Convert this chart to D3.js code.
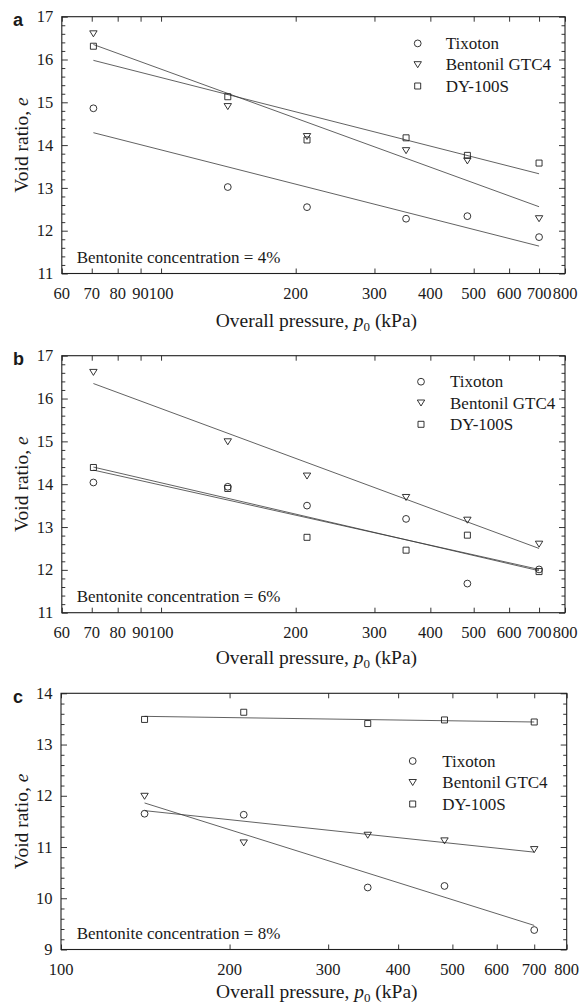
<!DOCTYPE html>
<html><head><meta charset="utf-8">
<script src="https://cdn.jsdelivr.net/npm/d3@7"></script>
<style>
body{margin:0;background:#fff;}
svg{display:block;}
text{font-family:"Liberation Serif","Times New Roman",serif;fill:#1a1a1a;}
text.plabel{font-family:"Liberation Sans",Arial,sans-serif;font-weight:bold;}
</style></head><body>
<svg id="chart" width="583" height="1004"></svg>
<script>
// ---------- data ----------
const seriesNames = ["Tixoton", "Bentonil GTC4", "DY-100S"];
const pressuresAB = [70.6, 141, 212, 353, 484, 700];
const pressuresC  = [141, 212, 353, 484, 700];
const xTicksAB = [60, 70, 80, 90, 100, 200, 300, 400, 500, 600, 700, 800];
const xTicksC  = [100, 200, 300, 400, 500, 600, 700, 800];
const yTicksAB = [11, 12, 13, 14, 15, 16, 17];
const yTicksC  = [9, 10, 11, 12, 13, 14];

// panel a (4%)
const tixotonA  = [14.86, 13.02, 12.55, 12.28, 12.34, 11.85];
const bentonilA = [16.60, 14.90, 14.20, 13.87, 13.63, 12.28];
const dy100sA   = [16.31, 15.13, 14.12, 14.17, 13.76, 13.58];
const fitTixotonA  = [14.29, 11.64];
const fitBentonilA = [16.35, 12.56];
const fitDy100sA   = [15.98, 13.33];

// panel b (6%)
const tixotonB  = [14.04, 13.94, 13.50, 13.19, 11.68, 12.01];
const bentonilB = [16.61, 14.99, 14.19, 13.69, 13.16, 12.60];
const dy100sB   = [14.39, 13.90, 12.76, 12.46, 12.81, 11.96];
const fitTixotonB  = [14.40, 11.98];
const fitBentonilB = [16.35, 12.50];
const fitDy100sB   = [14.33, 12.01];

// panel c (8%)
const tixotonC  = [11.65, 11.63, 10.21, 10.24, 9.38];
const bentonilC = [11.99, 11.08, 11.23, 11.12, 10.95];
const dy100sC   = [13.49, 13.63, 13.41, 13.48, 13.44];
const fitTixotonC  = [11.86, 9.47];
const fitBentonilC = [11.71, 10.90];
const fitDy100sC   = [13.55, 13.44];

const concentrations = ["4%", "6%", "8%"];
const panelLetters = ["a", "b", "c"];

// ---------- layout ----------
const panels = [
  {letter: panelLetters[0], conc: concentrations[0], x: pressuresAB, xDomain: [60, 800], xTicks: xTicksAB,
   yDomain: [11, 17], yTicks: yTicksAB, left: 61.8, right: 565, top: 16.7, bottom: 273.5,
   series: [tixotonA, bentonilA, dy100sA], fits: [fitTixotonA, fitBentonilA, fitDy100sA],
   legend: {mx: 417.7, tx: 445.7, y0: 43.4, dy: 21.3}, titleY: 327},
  {letter: panelLetters[1], conc: concentrations[1], x: pressuresAB, xDomain: [60, 800], xTicks: xTicksAB,
   yDomain: [11, 17], yTicks: yTicksAB, left: 61.8, right: 565, top: 355.7, bottom: 612.7,
   series: [tixotonB, bentonilB, dy100sB], fits: [fitTixotonB, fitBentonilB, fitDy100sB],
   legend: {mx: 421, tx: 450, y0: 381.7, dy: 21.3}, titleY: 664},
  {letter: panelLetters[2], conc: concentrations[2], x: pressuresC, xDomain: [100, 800], xTicks: xTicksC,
   yDomain: [9, 14], yTicks: yTicksC, left: 61, right: 566.7, top: 693.3, bottom: 949.5,
   series: [tixotonC, bentonilC, dy100sC], fits: [fitTixotonC, fitBentonilC, fitDy100sC],
   legend: {mx: 412.7, tx: 442.3, y0: 761, dy: 21.5}, titleY: 998}
];

const ink = "#1f1f1f";
const lineInk = "#3a3a3a";

function markerPath(kind) {
  if (kind === 0) { // circle
    const r = 3.4;
    return `M${r},0A${r},${r} 0 1,1 ${-r},0A${r},${r} 0 1,1 ${r},0Z`;
  } else if (kind === 1) { // down triangle
    const w = 7.4, h = 6.0;
    return `M${-w/2},${-h/2}L${w/2},${-h/2}L0,${h/2}Z`;
  } else { // square
    const s = 6.0;
    return `M${-s/2},${-s/2}h${s}v${s}h${-s}Z`;
  }
}

const svg = d3.select("#chart");

panels.forEach(p => {
  const g = svg.append("g");
  const xs = d3.scaleLog().domain(p.xDomain).range([p.left, p.right]);
  const ys = d3.scaleLinear().domain(p.yDomain).range([p.bottom, p.top]);

  // x axes (bottom & top), ticks inward
  const xb = d3.axisBottom(xs).tickValues(p.xTicks).tickSizeInner(-5).tickSizeOuter(0).tickPadding(0).tickFormat("");
  const xt = d3.axisTop(xs).tickValues(p.xTicks).tickSizeInner(-5).tickSizeOuter(0).tickFormat("");
  g.append("g").attr("transform", `translate(0,${p.bottom})`).call(xb);
  g.append("g").attr("transform", `translate(0,${p.top})`).call(xt);

  // y axes major + minor ticks inward
  const minor = d3.range(p.yDomain[0], p.yDomain[1] + 1e-9, 0.2).filter(v => Math.abs(v - Math.round(v)) > 1e-6);
  const yl = d3.axisLeft(ys).tickValues(p.yTicks).tickSizeInner(-6).tickSizeOuter(0).tickFormat("");
  const yr = d3.axisRight(ys).tickValues(p.yTicks).tickSizeInner(-6).tickSizeOuter(0).tickFormat("");
  const ylm = d3.axisLeft(ys).tickValues(minor).tickSizeInner(-3.5).tickSizeOuter(0).tickFormat("");
  const yrm = d3.axisRight(ys).tickValues(minor).tickSizeInner(-3.5).tickSizeOuter(0).tickFormat("");
  g.append("g").attr("transform", `translate(${p.left},0)`).call(yl);
  g.append("g").attr("transform", `translate(${p.right},0)`).call(yr);
  g.append("g").attr("transform", `translate(${p.left},0)`).call(ylm);
  g.append("g").attr("transform", `translate(${p.right},0)`).call(yrm);
  g.selectAll(".domain").remove();
  g.selectAll(".tick line").attr("stroke", ink).attr("stroke-width", 0.9);

  // frame
  g.append("rect").attr("x", p.left).attr("y", p.top)
    .attr("width", p.right - p.left).attr("height", p.bottom - p.top)
    .attr("fill", "none").attr("stroke", ink).attr("stroke-width", 1.1);

  // tick labels
  g.selectAll(".xl").data(p.xTicks).enter().append("text")
    .attr("x", d => xs(d)).attr("y", p.bottom + 25)
    .attr("text-anchor", "middle").attr("font-size", 16.5).text(d => d);
  g.selectAll(".yl").data(p.yTicks).enter().append("text")
    .attr("x", p.left - 8.5).attr("y", d => ys(d)).attr("dy", "0.34em")
    .attr("text-anchor", "end").attr("font-size", 16.5).text(d => d);

  // axis titles
  const xt2 = g.append("text").attr("x", (p.left + p.right) / 2 + 3).attr("y", p.titleY)
    .attr("text-anchor", "middle").attr("font-size", 19.5);
  xt2.append("tspan").text("Overall pressure, ");
  xt2.append("tspan").attr("font-style", "italic").text("p");
  xt2.append("tspan").attr("font-size", 13).attr("dy", 4).text("0");
  xt2.append("tspan").attr("dy", -4).text(" (kPa)");

  const yt = g.append("text")
    .attr("transform", `translate(28,${(p.top + p.bottom) / 2}) rotate(-90)`)
    .attr("text-anchor", "middle").attr("font-size", 19.5);
  yt.append("tspan").text("Void ratio, ");
  yt.append("tspan").attr("font-style", "italic").text("e");

  // panel letter
  g.append("text").attr("class", "plabel").attr("x", 13).attr("y", p.top + 9.5)
    .attr("font-size", 18).text(p.letter);

  // fit lines
  p.fits.forEach((f, i) => {
    const xEnds = [p.x[0], p.x[p.x.length - 1]];
    g.append("line")
      .attr("x1", xs(xEnds[0])).attr("y1", ys(f[0]))
      .attr("x2", xs(xEnds[1])).attr("y2", ys(f[1]))
      .attr("stroke", lineInk).attr("stroke-width", 0.8);
  });

  // markers
  p.series.forEach((vals, i) => {
    g.selectAll(null).data(vals).enter().append("path")
      .attr("d", markerPath(i))
      .attr("transform", (d, j) => `translate(${xs(p.x[j])},${ys(d)})`)
      .attr("fill", "none").attr("stroke", ink).attr("stroke-width", 0.9);
  });

  // legend
  seriesNames.forEach((name, i) => {
    const y = p.legend.y0 + i * p.legend.dy;
    g.append("path").attr("d", markerPath(i))
      .attr("transform", `translate(${p.legend.mx},${y})`)
      .attr("fill", "none").attr("stroke", ink).attr("stroke-width", 0.9);
    g.append("text").attr("x", p.legend.tx).attr("y", y).attr("dy", "0.34em")
      .attr("font-size", 17).text(name);
  });

  // annotation
  g.append("text").attr("x", 76.7).attr("y", p.bottom - 10.5)
    .attr("font-size", 17).text("Bentonite concentration = " + p.conc);
});
</script>
</body></html>
